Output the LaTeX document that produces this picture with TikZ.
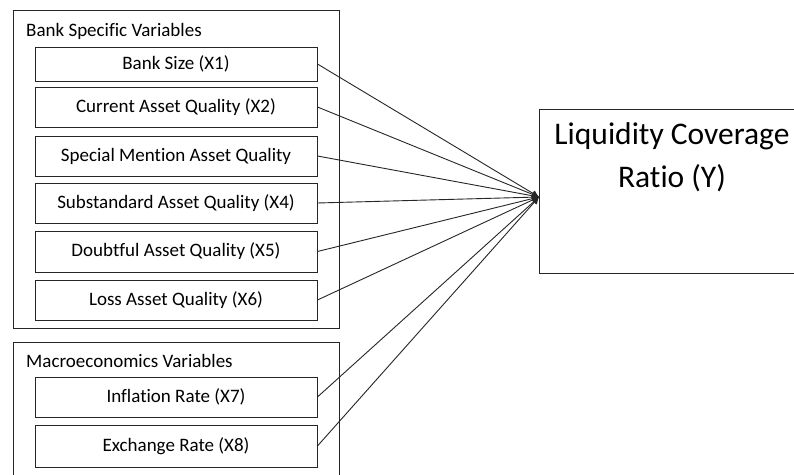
\documentclass[tikz,border=0pt]{standalone}
\usepackage{fontspec}
\setmainfont[Ligatures=NoCommon]{Carlito}
\usetikzlibrary{arrows.meta}
\begin{document}
\begin{tikzpicture}[x=1bp,y=-1bp,
  frame/.style={draw=black!85, line width=0.9bp},
  varbox/.style={frame, minimum width=282bp, inner sep=0pt, font=\fontsize{19bp}{22bp}\selectfont},
  grouplabel/.style={anchor=west, inner sep=0pt, font=\fontsize{19bp}{22bp}\selectfont},
  link/.style={draw=black!85, line width=0.9bp, -{Latex[length=7bp,width=7bp]}}]
\useasboundingbox (0,0) rectangle (794,475);
\clip (0,0) rectangle (794,475);
\fill[white] (0,0) rectangle (794,475);

% group frames
\node[frame, minimum width=326bp, minimum height=318bp, inner sep=0pt] (bankgrp) at (176,169) {};
\node[frame, minimum width=326bp, minimum height=140bp, inner sep=0pt] (macrogrp) at (176,412) {};
\node[grouplabel] (banklbl) at (26,31) {Bank Specific Variables};
\node[grouplabel] (macrolbl) at (26,361) {Macroeconomics Variables};

% independent variables
\node[varbox, minimum height=34bp] (x1) at (176,64) {Bank Size (X1)};
\node[varbox, minimum height=40bp] (x2) at (176,107) {Current Asset Quality (X2)};
\node[varbox, minimum height=40bp] (x3) at (176,156) {Special Mention Asset Quality};
\node[varbox, minimum height=40bp] (x4) at (176,203) {Substandard Asset Quality (X4)};
\node[varbox, minimum height=41bp] (x5) at (176,251.5) {Doubtful Asset Quality (X5)};
\node[varbox, minimum height=40bp] (x6) at (176,300) {Loss Asset Quality (X6)};
\node[varbox, minimum height=40bp] (x7) at (176,397) {Inflation Rate (X7)};
\node[varbox, minimum height=42bp] (x8) at (176,446) {Exchange Rate (X8)};

% dependent variable
\node[frame, minimum width=266bp, minimum height=164bp, inner sep=0pt] (y) at (672,191) {};
\node[align=center, inner sep=0pt, font=\fontsize{31.5bp}{43bp}\selectfont] (ytext) at (672,157) {Liquidity Coverage\\Ratio (Y)};
\coordinate (hub) at (539,197);

% connectors
\foreach \v in {x1,x2,x3,x4,x5,x6,x7,x8}
  \draw[link] (\v.east) -- (hub);
\end{tikzpicture}
\end{document}
